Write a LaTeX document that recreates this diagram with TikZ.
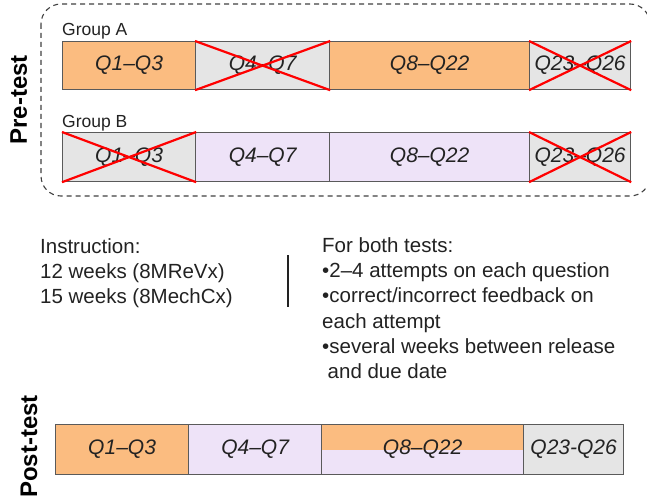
\documentclass[tikz,border=0pt]{standalone}
\usepackage{fontspec}
\setmainfont{Liberation Sans}
\usetikzlibrary{calc}
\definecolor{orA}{HTML}{FBBC80}
\definecolor{lil}{HTML}{EEE3F8}
\definecolor{gry}{HTML}{E5E5E5}
\definecolor{bord}{HTML}{5A5A5A}
\definecolor{txt}{HTML}{222222}
\begin{document}
\begin{tikzpicture}[x=1pt,y=-1pt,
  cell/.style={draw=bord, line width=1.2pt, inner sep=0pt, anchor=north west,
    font=\fontsize{21}{25}\selectfont\itshape, text=txt},
  redx/.style={draw=red, line width=2.2pt},
  grp/.style={anchor=base west, inner sep=0pt, font=\fontsize{17.5}{21}\selectfont, text=txt},
  body/.style={anchor=base west, inner sep=0pt, font=\fontsize{20.5}{25}\selectfont, text=txt},
  side/.style={rotate=90, anchor=base east, inner sep=0pt, font=\fontsize{24}{28}\selectfont\bfseries, text=black}
]
\useasboundingbox (0,0) rectangle (647,500);

% dashed pre-test frame
\draw[dash pattern=on 5pt off 4pt, line width=1.1pt, draw=black!75, rounded corners=20pt]
  (41,4) rectangle (650,196);
\node[side] (pre) at (27,55) {Pre-test};
\node[side] (post) at (37,395) {Post-test};

% Group A
\node[grp] (ga) at (62,36) {Group A};
\node[cell, fill=orA, minimum width=133pt, minimum height=48pt] (a1) at (62,41) {Q1–Q3};
\node[cell, fill=gry, minimum width=134pt, minimum height=48pt] (a2) at (195,41) {Q4–Q7};
\node[cell, fill=orA, minimum width=200pt, minimum height=48pt] (a3) at (329,41) {Q8–Q22};
\node[cell, fill=gry, minimum width=101pt, minimum height=48pt] (a4) at (529,41) {Q23–Q26};
\foreach \c in {a2,a4}{\draw[redx] (\c.north west) -- (\c.south east) (\c.south west) -- (\c.north east);}

% Group B
\node[grp] (gb) at (62,127) {Group B};
\node[cell, fill=gry, minimum width=133pt, minimum height=49pt] (b1) at (62,132) {Q1–Q3};
\node[cell, fill=lil, minimum width=134pt, minimum height=49pt] (b2) at (195,132) {Q4–Q7};
\node[cell, fill=lil, minimum width=200pt, minimum height=49pt] (b3) at (329,132) {Q8–Q22};
\node[cell, fill=gry, minimum width=101pt, minimum height=49pt] (b4) at (529,132) {Q23–Q26};
\foreach \c in {b1,b4}{\draw[redx] (\c.north west) -- (\c.south east) (\c.south west) -- (\c.north east);}

% Instruction text
\node[body] (i1) at (40,253) {Instruction:};
\node[body] (i2) at (40,278) {12 weeks (8MReVx)};
\node[body] (i3) at (40,303) {15 weeks (8MechCx)};
\draw[line width=2.2pt, draw=txt] (288,255) -- (288,307);
\node[body] (f1) at (322,252) {For both tests:};
\node[body] (f2) at (322,277) {•2–4 attempts on each question};
\node[body] (f3) at (322,302) {•correct/incorrect feedback on};
\node[body] (f4) at (322,328) {each attempt};
\node[body] (f5) at (322,353) {•several weeks between release};
\node[body] (f6) at (327.5,378) {and due date};

% Post-test
\node[cell, fill=orA, minimum width=133pt, minimum height=50pt] (p1) at (55,424) {Q1–Q3};
\node[cell, fill=lil, minimum width=133pt, minimum height=50pt] (p2) at (188,424) {Q4–Q7};
\node[cell, fill=lil, minimum width=202pt, minimum height=50pt,
  path picture={\fill[orA] (path picture bounding box.north west) rectangle
    ($(path picture bounding box.north east)!0.5!(path picture bounding box.south east)$);}] (p3) at (321,424) {Q8–Q22};
\node[cell, fill=gry, minimum width=100pt, minimum height=50pt] (p4) at (523,424) {Q23-Q26};
\end{tikzpicture}
\end{document}
